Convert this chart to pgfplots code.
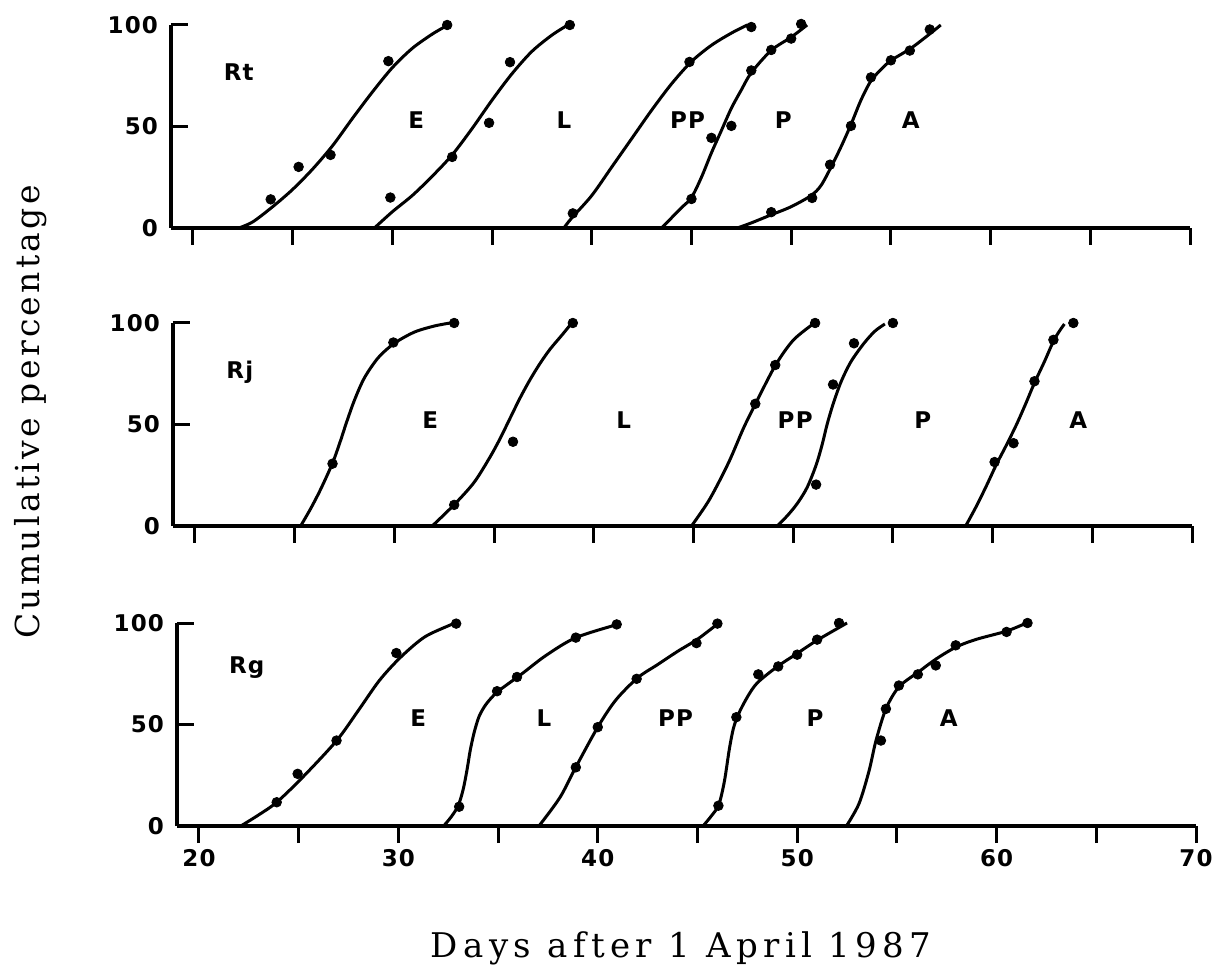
\documentclass[border=0pt]{standalone}
\usepackage{fontspec}
\setmainfont{DejaVu Serif}
\newfontfamily\hv[LetterSpace=5]{DejaVu Sans}
\newfontfamily\lblx[LetterSpace=16]{DejaVu Serif}
\newfontfamily\lbly[LetterSpace=10]{DejaVu Serif}
\usepackage{pgfplots}
\pgfplotsset{compat=1.18}

\pgfplotsset{
  panel/.style={
    scale only axis, width=509.5bp, height=101.5bp,
    xmin=18.9, xmax=70, ymin=0, ymax=100,
    axis x line=bottom, axis y line=left,
    axis line style={-, line width=1.6bp},
    xtick={20,25,...,70}, ytick={0,50,100},
    tick align=inside, major tick length=8.5bp,
    tick style={line width=1.5bp, black},
    xtick style={yshift=-8.5bp},
    xticklabels={},
    tick label style={font=\hv\bfseries\fontsize{11.5bp}{12bp}\selectfont},
    yticklabel style={xshift=-3bp},
    xticklabel style={yshift=-8bp},
    /pgf/number format/assume math mode=true,
    clip=false,
  },
  curve/.style={smooth, line width=1.5bp, black, mark=none},
  dots/.style={only marks, mark=*, mark size=2.4bp, black},
}
\tikzset{lab/.style={font=\hv\bfseries\fontsize{11.5bp}{12bp}\selectfont}}

\begin{document}
\begin{tikzpicture}
\useasboundingbox (-88.5bp,-74bp) rectangle (521.5bp,413bp);

% ---------- Rt ----------
\begin{axis}[panel, at={(-3bp,299bp)}]
\addplot[curve] coordinates {(22.3,0) (23,3) (24,10.5) (25,19) (26,29) (27,40.5) (28,54) (29,67) (30,79) (31,88.5) (32,95.5) (32.7,99.5)};
\addplot[dots] coordinates {(23.9,14.1) (25.3,30.1) (26.9,36) (29.8,82.2) (32.75,100)};
\addplot[curve] coordinates {(29.1,0) (30,8) (31,16) (32,25.5) (33,36) (34,49) (35,63) (36,76) (37,87) (38,95) (38.8,100)};
\addplot[dots] coordinates {(29.9,15) (33,35) (34.85,51.8) (35.9,81.7) (38.9,100)};
\addplot[curve] coordinates {(38.6,0) (39,5) (40,16) (41,30) (42,44) (43,58) (44,71) (45,82) (46,90) (47,96) (47.8,100)};
\addplot[dots] coordinates {(39.05,7.2) (44.9,81.8) (48,99)};
\addplot[curve] coordinates {(43.5,0) (44,5) (44.5,10) (45,15) (45.5,25) (46,37) (46.5,48) (47,59) (47.5,68) (48,76.5) (49,87.5) (50,94) (50.8,100)};
\addplot[dots] coordinates {(45,14.3) (46,44.4) (47,50.3) (48,77.6) (49,87.7) (50,93.3) (50.5,100.5)};
\addplot[curve] coordinates {(47.3,0) (48,2.5) (49,6.5) (50,10.5) (51,16) (51.5,21) (52,30) (52.5,40) (53,51) (53.5,63) (54,72.5) (54.5,78) (55,82.5) (56,88.5) (57,96) (57.5,100)};
\addplot[dots] coordinates {(49,7.8) (51.05,14.8) (51.95,31.2) (53,50.3) (54,74.2) (55,82.6) (55.95,87.4) (56.95,97.8)};
\node[lab] at (axis cs:22.3,77) {Rt};
\node[lab] at (axis cs:31.2,53) {E};
\node[lab] at (axis cs:38.6,53) {L};
\node[lab] at (axis cs:44.8,53) {PP};
\node[lab] at (axis cs:49.6,53) {P};
\node[lab] at (axis cs:56,53) {A};
\end{axis}

% ---------- Rj ----------
\begin{axis}[panel, at={(-2bp,150bp)}]
\addplot[curve] coordinates {(25.3,0) (25.8,8.5) (26.3,18) (26.9,31) (27.3,42) (27.6,51) (28,62) (28.5,73) (29.2,83) (30,90) (31,95.5) (32,98.5) (32.8,100)};
\addplot[dots] coordinates {(26.9,30.7) (29.95,90.4) (33,100)};
\addplot[curve] coordinates {(31.9,0) (33,10.5) (34,21.5) (34.8,34) (35.3,43) (35.7,51) (36.3,63) (36.8,72) (37.3,80) (37.8,87) (38.4,94) (38.9,100)};
\addplot[dots] coordinates {(33,10.4) (35.95,41.5) (38.95,100)};
\addplot[curve] coordinates {(44.9,0) (45.8,13) (46.75,31) (47.5,48) (48.1,60) (49.1,79) (50,91.5) (51,99.5)};
\addplot[dots] coordinates {(48.1,60.2) (49.1,79.3) (51.1,100)};
\addplot[curve] coordinates {(49.2,0) (49.7,5) (50.2,11) (50.7,19) (51.15,30) (51.45,40) (51.7,50) (52,60) (52.4,71) (52.9,81) (53.55,90) (54.1,96) (54.6,99.5)};
\addplot[dots] coordinates {(51.15,20.4) (52,69.7) (53.05,90) (55,100)};
\addplot[curve] coordinates {(58.65,0) (59.2,10) (59.7,20) (60.2,30.5) (60.7,40) (61.2,50) (61.65,60) (62.1,70.5) (62.6,81) (63.05,91) (63.35,96) (63.6,99.5)};
\addplot[dots] coordinates {(60.1,31.5) (61.05,40.8) (62.1,71.3) (63.05,91.7) (64.05,100)};
\node[lab] at (axis cs:22.25,75.5) {Rj};
\node[lab] at (axis cs:31.8,52) {E};
\node[lab] at (axis cs:41.5,52) {L};
\node[lab] at (axis cs:50.1,52) {PP};
\node[lab] at (axis cs:56.5,52) {P};
\node[lab] at (axis cs:64.3,52) {A};
\end{axis}

% ---------- Rg ----------
\begin{axis}[panel, at={(0,0)}, xticklabels={20,,30,,40,,50,,60,,70}]
\addplot[curve] coordinates {(22.1,0) (23,5.5) (23.9,11.7) (25.2,24) (26.9,42) (28,57) (29.05,71.7) (30.1,83) (31.3,93) (32.6,99) (32.9,100)};
\addplot[dots] coordinates {(23.9,11.7) (24.95,25.7) (26.9,42.1) (29.9,85.2) (32.9,99.7)};
\addplot[curve] coordinates {(32.27,0) (32.65,4.5) (33,10) (33.25,18) (33.45,28) (33.6,37) (33.8,46) (34.05,54) (34.4,60) (34.9,65.5) (35.5,70) (36.2,75) (37.4,84) (38.9,92.8) (41,99.3)};
\addplot[dots] coordinates {(33.05,9.5) (34.95,66.4) (35.95,73.4) (38.9,92.8) (40.95,99.3)};
\addplot[curve] coordinates {(37.05,0) (38.1,14) (38.9,29) (40,48.7) (40.9,62) (42,73) (43,79.5) (44,86) (45,92) (46,99.5)};
\addplot[dots] coordinates {(38.9,28.9) (40,48.7) (41.95,72.5) (44.95,90.1) (46,99.7)};
\addplot[curve] coordinates {(45.28,0) (45.7,5) (46.07,10.5) (46.35,22) (46.6,38) (46.8,48) (47.05,55) (47.5,63.5) (48,70.5) (49,78.5) (50,85) (51,91.5) (52.5,100)};
\addplot[dots] coordinates {(46.05,10) (46.95,53.6) (48.05,74.7) (49.05,78.6) (50,84.4) (51,91.8) (52.1,100)};
\addplot[curve] coordinates {(52.47,0) (53.1,11) (53.6,27) (53.95,42) (54.45,57.7) (55.1,68.5) (56.1,76) (57,82.5) (58,88.3) (59,92) (60.5,96) (61.5,100)};
\addplot[dots] coordinates {(54.2,42.1) (54.45,57.7) (55.1,69.2) (56.05,74.7) (56.95,79.1) (57.95,89) (60.5,95.6) (61.55,100)};
\node[lab] at (axis cs:22.4,78) {Rg};
\node[lab] at (axis cs:31,53) {E};
\node[lab] at (axis cs:37.3,53) {L};
\node[lab] at (axis cs:43.9,53) {PP};
\node[lab] at (axis cs:50.9,53) {P};
\node[lab] at (axis cs:57.6,53) {A};
\end{axis}

\node[rotate=90, font=\lbly\fontsize{16.5bp}{18bp}\selectfont] at (-73bp,207bp) {Cumulative percentage};
\node[font=\lblx\fontsize{17bp}{18bp}\selectfont] at (252bp,-61bp) {Days after 1 April 1987};
\end{tikzpicture}
\end{document}
